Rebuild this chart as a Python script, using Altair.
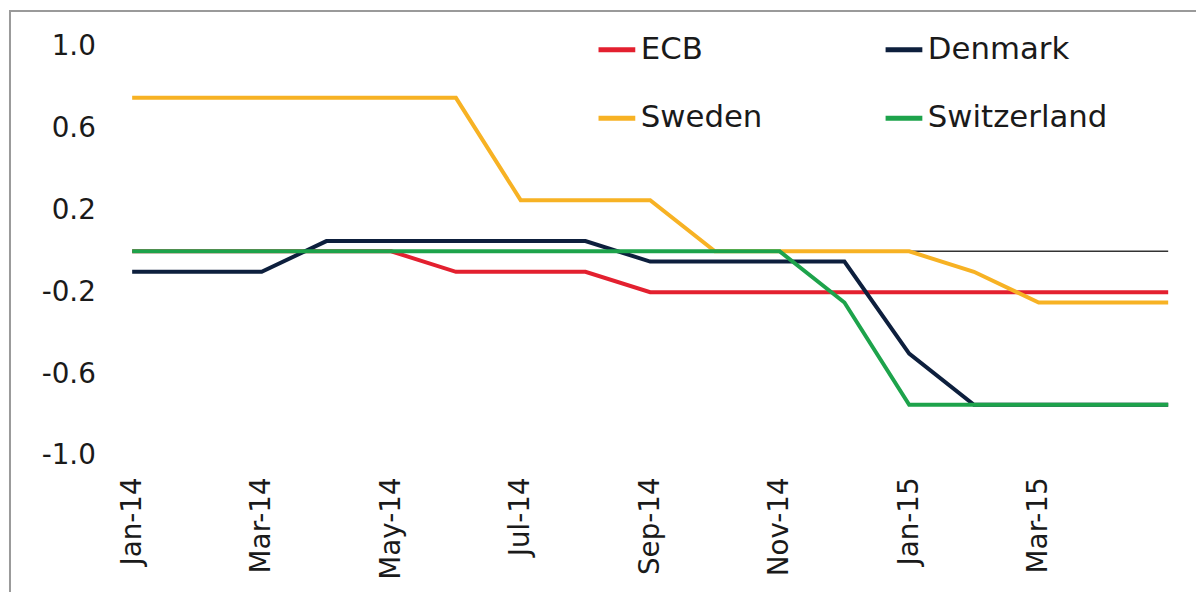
import altair as alt
import pandas as pd

months = ["Jan-14", "Feb-14", "Mar-14", "Apr-14", "May-14", "Jun-14", "Jul-14",
          "Aug-14", "Sep-14", "Oct-14", "Nov-14", "Dec-14", "Jan-15", "Feb-15",
          "Mar-15", "Apr-15", "May-15"]
tick_months = ["Jan-14", "Mar-14", "May-14", "Jul-14", "Sep-14", "Nov-14", "Jan-15", "Mar-15"]

ecb = [0, 0, 0, 0, 0, -0.1, -0.1, -0.1, -0.2, -0.2, -0.2, -0.2, -0.2, -0.2, -0.2, -0.2, -0.2]
denmark = [-0.1, -0.1, -0.1, 0.05, 0.05, 0.05, 0.05, 0.05, -0.05, -0.05, -0.05, -0.05,
           -0.5, -0.75, -0.75, -0.75, -0.75]
sweden = [0.75, 0.75, 0.75, 0.75, 0.75, 0.75, 0.25, 0.25, 0.25, 0, 0, 0, 0, -0.1,
          -0.25, -0.25, -0.25]
switzerland = [0, 0, 0, 0, 0, 0, 0, 0, 0, 0, 0, -0.25, -0.75, -0.75, -0.75, -0.75, -0.75]

series_names = ["ECB", "Denmark", "Sweden", "Switzerland"]
series_values = [ecb, denmark, sweden, switzerland]
series_colors = ["#E3202F", "#0D1F3D", "#F7B224", "#1DA34B"]

rows = []
for name, vals in zip(series_names, series_values):
    for m, v in zip(months, vals):
        rows.append({"month": m, "value": v, "series": name})
df = pd.DataFrame(rows)

FONT = "DejaVu Sans"

x_enc = alt.X("month:O", sort=months,
              scale=alt.Scale(type="point", padding=0, domain=months),
              axis=alt.Axis(values=tick_months, labelAngle=270, labelFontSize=28,
                            labelFont=FONT, labelColor="#1a1a1a", ticks=False, tickSize=0,
                            domain=False, grid=False, labelPadding=21, title=None,
                            labelOverlap=False))
y_enc = alt.Y("value:Q",
              scale=alt.Scale(domain=[-1, 1], nice=False, zero=False),
              axis=alt.Axis(values=[-1, -0.6, -0.2, 0.2, 0.6, 1.0], labelFontSize=28,
                            labelFont=FONT, labelColor="#1a1a1a", ticks=False, tickSize=0,
                            domain=False, grid=False, labelPadding=37, title=None,
                            labelExpr="replace(format(datum.value, '.1f'), '\u2212', '-')"))
color_enc = alt.Color("series:N",
                      scale=alt.Scale(domain=series_names, range=series_colors),
                      legend=alt.Legend(title=None, orient="none", legendX=467, legendY=-18,
                                        direction="horizontal",
                                        columns=2, symbolType="stroke", symbolSize=1369,
                                        symbolStrokeWidth=5, labelFontSize=31, labelFont=FONT,
                                        labelColor="#1a1a1a", labelOffset=3, rowPadding=33,
                                        columnPadding=113, padding=0, labelLimit=500))

frame = alt.Chart(pd.DataFrame({"a": [0]})).mark_rect(
    fill=None, stroke="#9a9a9a", strokeWidth=2
).encode(x=alt.value(-123), x2=alt.value(1200), y=alt.value(-36), y2=alt.value(700))

zero = alt.Chart(pd.DataFrame({"a": [0]})).mark_rule(color="#333333", strokeWidth=1.5).encode(
    y=alt.datum(0)
)

layers = [frame, zero]
for name in series_names:
    layers.append(
        alt.Chart(df).transform_filter(alt.datum.series == name)
        .mark_line(strokeWidth=4)
        .encode(x=x_enc, y=y_enc, color=color_enc)
    )

chart = alt.layer(*layers).properties(
    width=1043, height=412,
    autosize=alt.AutoSizeParams(type="none"),
    padding={"left": 125, "top": 37, "right": 28, "bottom": 135},
    background="white",
).configure_view(stroke=None)

chart.save("out.html", embed_options={"renderer": "svg", "actions": False})
